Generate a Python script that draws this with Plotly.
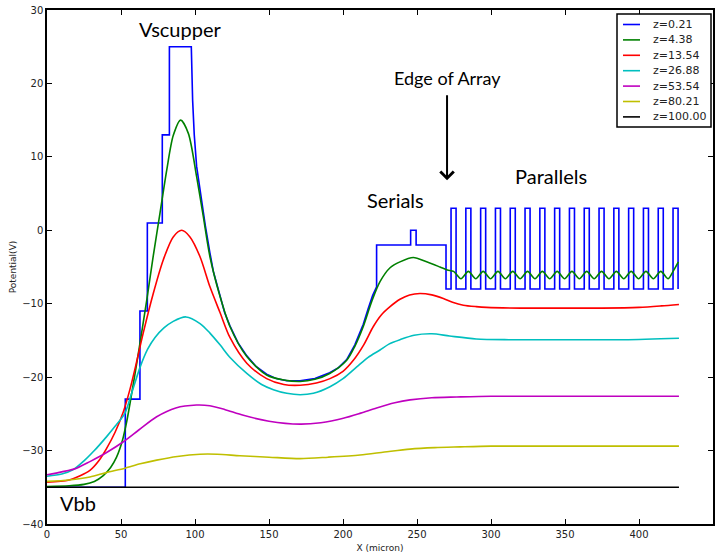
import plotly.graph_objects as go

# ---------------- data ----------------
# z = 0.21 (gate-level potential): step gates + smooth gap region
blue_x = [0, 52.9, 52.9, 62.8, 62.8, 67.8, 67.8, 77.9, 77.9, 82.7, 82.7, 97.5,
          98.4, 99.5, 101.1, 102.8, 104.5, 107.0, 110.1, 112.4, 116.9, 120.0,
          123.6, 129.0, 135.0, 141.0, 148.4, 155.0, 162.0, 171.0, 181.0, 191.0,
          197.0, 202.5, 208.0, 213.7, 217.0, 220.0, 222.7, 222.7, 245.7, 245.7,
          249.4, 249.4, 269.6, 269.6]
blue_y = [-35, -35, -23, -23, -11, -11, 1, 1, 13, 13, 25, 25,
          17.7, 13.0, 8.7, 6.2, 4.1, 0.6, -3.1, -5.6, -8.9, -11.2,
          -13.0, -15.3, -17.1, -18.5, -19.6, -20.2, -20.5, -20.5, -20.2, -19.4,
          -18.7, -17.6, -15.6, -12.8, -10.7, -8.9, -7.7, -2, -2, 0,
          0, -2, -2, -8]
# parallel gates (square wave)
par_on = [273, 283, 293, 303, 313, 323, 333, 343, 353, 363, 373, 383, 393, 403, 413, 423]
par_off = [276.4, 286.4, 296.4, 306.4, 316.4, 326.4, 336.4, 346.4, 356.4, 366.4,
           376.4, 386.4, 396.4, 406.4, 416.4, 426.4]
par_high = 3
par_low = -8

# z = 4.38
green_x = [0, 15, 25, 32, 38, 43, 47, 51, 54, 57, 61.7, 67.4, 71.8, 76.4, 80.9,
           85.3, 90.3, 95.5, 101.1, 105.6, 110.1, 116.9, 123.6, 135, 148.4,
           160, 171, 181, 191, 202.5, 208, 213.7, 219.4, 225, 231.8, 238.5, 247.5,
           256.5, 265.5, 270.5,
           274.7, 279.7, 284.7, 289.7, 294.7, 299.7, 304.7, 309.7, 314.7, 319.7,
           324.7, 329.7, 334.7, 339.7, 344.7, 349.7, 354.7, 359.7, 364.7, 369.7,
           374.7, 379.7, 384.7, 389.7, 394.7, 399.7, 404.7, 409.7, 414.7, 419.7,
           423.0, 426.6]
green_y = [-34.9, -34.8, -34.6, -34.2, -33.4, -32.3, -30.9, -28.6, -25.9, -22.5,
           -16.8, -9.5, -3.5, 2.4, 8.2, 12.9, 15.0, 13.2, 7.3, 1.9, -3.6, -9.0,
           -13.1, -17.2, -19.7, -20.4, -20.6, -20.3, -19.5, -17.7, -15.8, -13.1,
           -9.7, -7.0, -5.1, -4.3, -3.7, -4.3, -5.0, -5.4,
           -5.6, -6.6, -5.6, -6.6, -5.6, -6.6, -5.6, -6.6, -5.6, -6.6,
           -5.6, -6.6, -5.6, -6.6, -5.6, -6.6, -5.6, -6.6, -5.6, -6.6,
           -5.6, -6.6, -5.6, -6.6, -5.6, -6.6, -5.6, -6.6, -5.6, -6.6,
           -5.6, -4.3]

# z = 13.54
red_x = [0, 15, 29, 35, 40.3, 46, 51.6, 56, 60, 65, 71.8, 78.6, 85.3, 91, 96.6,
         103.4, 110.1, 116.9, 123.6, 135, 148.4, 160, 171, 182, 191.2, 200, 207,
         214, 220.5, 226, 231.8, 238.5, 245, 252, 260, 267.8, 274, 281.3, 290,
         297, 320, 350, 375, 400, 415, 427]
red_y = [-34.3, -34.0, -32.7, -31.4, -29.7, -27.5, -24.7, -21.7, -18.4, -14.0,
         -8.6, -4.0, -0.9, 0.0, -0.9, -3.6, -7.7, -11.2, -14.6, -18.1, -20.2,
         -21.0, -21.1, -20.8, -20.2, -19.2, -17.7, -15.6, -13.1, -11.5, -10.4,
         -9.4, -8.8, -8.6, -8.8, -9.3, -9.8, -10.2, -10.4, -10.5, -10.6, -10.6,
         -10.6, -10.5, -10.3, -10.1]

# z = 26.88
cyan_x = [0, 10, 17.8, 25, 32, 40.3, 46, 52.7, 57, 62.8, 68, 73, 79, 85.3, 93.9,
          103.4, 110.1, 116.9, 124, 135, 145, 153, 162, 171, 180, 191.2, 200,
          209.3, 217, 225, 231, 238.5, 248, 260, 272, 290, 312, 350, 390, 427]
cyan_y = [-33.5, -33.2, -32.6, -31.4, -30.0, -28.1, -26.7, -24.9, -22.3, -18.7,
          -16.2, -14.6, -13.3, -12.4, -11.8, -12.7, -14.0, -15.6, -17.4, -19.5,
          -21.0, -21.7, -22.2, -22.4, -22.2, -21.3, -20.2, -18.6, -17.3, -16.3,
          -15.5, -14.9, -14.3, -14.1, -14.4, -14.8, -14.9, -14.9, -14.9, -14.7]

# z = 53.54
mag_x = [0, 10, 20, 29, 40, 51.6, 62, 74.1, 87, 101, 110, 120, 132.7, 150,
         171, 185, 200.2, 212, 222.7, 235, 245.3, 260, 276.8, 300, 350, 427]
mag_y = [-33.3, -32.9, -32.4, -31.5, -30.3, -28.8, -27.2, -25.4, -24.2, -23.8,
         -23.9, -24.4, -25.2, -26.0, -26.4, -26.2, -25.6, -24.9, -24.2, -23.5,
         -23.1, -22.8, -22.7, -22.6, -22.6, -22.6]

# z = 80.21
yel_x = [0, 15, 29, 40, 52.7, 63, 74.1, 88, 103.4, 115, 130.4, 150, 171, 190,
         211.5, 228, 245.3, 262, 279, 300, 350, 427]
yel_y = [-34.2, -34.0, -33.6, -33.0, -32.4, -31.8, -31.3, -30.8, -30.5, -30.5,
         -30.7, -30.9, -31.1, -30.9, -30.6, -30.2, -29.8, -29.6, -29.5, -29.4,
         -29.4, -29.4]

# z = 100.00 (Vbb)
blk_x = [0, 427]
blk_y = [-35, -35]

labels = ["z=0.21", "z=4.38", "z=13.54", "z=26.88", "z=53.54", "z=80.21", "z=100.00"]
colors = ["#0000ff", "#008000", "#ff0000", "#00bfbf", "#bf00bf", "#bfbf00", "#000000"]

# build the parallel-gate square wave from the gate edges
bx = list(blue_x)
by = list(blue_y)
for on, off in zip(par_on, par_off):
    bx += [on, on, off, off]
    by += [par_low, par_high, par_high, par_low]

fig = go.Figure()
LW = 1.6
fig.add_trace(go.Scatter(x=bx, y=by, mode="lines", name=labels[0],
                         line=dict(color=colors[0], width=LW)))
series = [(green_x, green_y), (red_x, red_y), (cyan_x, cyan_y),
          (mag_x, mag_y), (yel_x, yel_y)]
for i, (sx, sy) in enumerate(series, start=1):
    fig.add_trace(go.Scatter(x=sx, y=sy, mode="lines", name=labels[i],
                             line=dict(color=colors[i], width=LW,
                                       shape="spline", smoothing=0.8)))
fig.add_trace(go.Scatter(x=blk_x, y=blk_y, mode="lines", name=labels[6],
                         line=dict(color=colors[6], width=LW)))

tick_font = dict(family="DejaVu Sans", size=10, color="#222")
fig.update_xaxes(range=[0, 450], dtick=50, tick0=0, showline=True, mirror="allticks",
                 linecolor="black", linewidth=1.5, ticks="inside", ticklen=5,
                 tickcolor="black", tickwidth=1, showgrid=False, zeroline=False,
                 tickfont=tick_font, automargin=False,
                 title=dict(text="X (micron)", font=dict(family="DejaVu Sans", size=9,
                            color="#222"), standoff=6))
fig.update_yaxes(range=[-40, 30], dtick=10, tick0=0, showline=True, mirror="allticks",
                 linecolor="black", linewidth=1.5, ticks="inside", ticklen=5,
                 tickcolor="black", tickwidth=1, showgrid=False, zeroline=False,
                 tickfont=tick_font, automargin=False,
                 title=dict(text="Potential(V)", font=dict(family="DejaVu Sans", size=9,
                            color="#222"), standoff=4))

texts = [("Vscupper", 90.5, 27.4, 20), ("Edge of Array", 270.3, 20.7, 18),
         ("Serials", 235.8, 4.1, 20), ("Parallels", 340.5, 7.4, 20), ("Vbb", 21, -37.1, 20)]
for t, tx, ty, fs in texts:
    fig.add_annotation(x=tx, y=ty, xref="x", yref="y", text=t, showarrow=False,
                       font=dict(family="Lato", size=fs, color="black"))
fig.add_annotation(x=270.3, y=6.8, ax=270.3, ay=18.6, xref="x", yref="y",
                   axref="x", ayref="y", text="", showarrow=True, arrowhead=4,
                   arrowsize=1.3, arrowwidth=2, arrowcolor="black")

# legend box drawn in the matplotlib style (compact entries)
plot_l, plot_r, plot_t, plot_b = 47, 713, 10, 524
def px2paper(px, py):
    return (px - plot_l) / (plot_r - plot_l), (plot_b - py) / (plot_b - plot_t)

bx0, by0 = px2paper(617, 14)
bx1, by1 = px2paper(711, 127)
fig.add_shape(type="rect", xref="paper", yref="paper", x0=bx0, y0=by1, x1=bx1, y1=by0,
              line=dict(color="black", width=1.5), fillcolor="white", layer="above")
for k, (lab, col) in enumerate(zip(labels, colors)):
    cy = 24.5 + k * 15.4
    lx0, ly = px2paper(623, cy)
    lx1, _ = px2paper(640, cy)
    tx, _ = px2paper(651, cy)
    fig.add_shape(type="line", xref="paper", yref="paper", x0=lx0, x1=lx1, y0=ly, y1=ly,
                  line=dict(color=col, width=1.6), layer="above")
    fig.add_annotation(x=tx, y=ly, xref="paper", yref="paper", text=lab,
                       showarrow=False, xanchor="left", yanchor="middle",
                       font=dict(family="DejaVu Sans", size=11, color="#222"))

fig.update_layout(
    width=722, height=555,
    margin=dict(l=47, r=9, t=10, b=31),
    plot_bgcolor="white", paper_bgcolor="white",
    showlegend=False,
)

fig.write_html("out.html")
